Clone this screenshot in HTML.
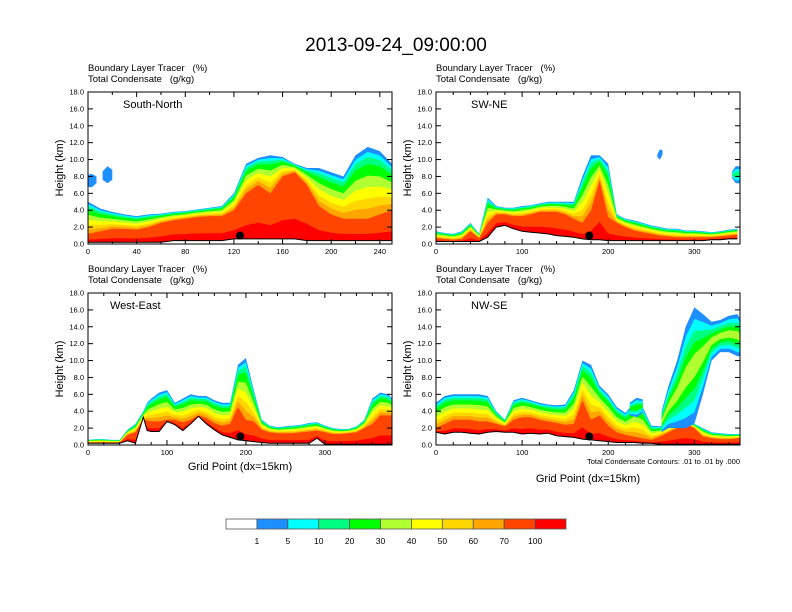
<!DOCTYPE html>
<html><head><meta charset="utf-8">
<style>
html,body{margin:0;padding:0;background:#fff;}
svg{display:block;font-family:"Liberation Sans",Arial,sans-serif;}
text{white-space:pre;}
</style></head>
<body>
<svg id="chart" width="792" height="612" viewBox="0 0 792 612" xmlns="http://www.w3.org/2000/svg">
<text x="396" y="51" font-size="19" text-anchor="middle">2013-09-24_09:00:00</text>
</svg>
<script>
// ---- data ----
const levelColors = ["#ffffff","#1e8fff","#00ffff","#00ff80","#00ff00","#b0ff30","#ffff00","#ffd700","#ffa500","#ff4500","#ff0000"];
const levelLabels = ["1","5","10","20","30","40","50","60","70","100"];
const yTicks = [0,2,4,6,8,10,12,14,16,18];

const p1X = [0,10,20,30,40,50,60,70,80,90,100,110,120,130,140,150,160,170,180,190,200,210,220,230,240,250];
const p1Top = [5,4.2,3.8,3.5,3.3,3.5,3.6,3.8,3.9,4.1,4.3,4.5,6,9.5,10.2,10.5,10.3,9.5,9,9,8.5,8,10.5,11.5,11,9.5];
const p1Core = [1.2,1.5,1.8,1.8,1.7,2,2.5,2.8,3,3.2,3.3,3.3,4,6,7,6,8,8.5,7,4.5,3.5,3,3,3,3.5,4];
const p1Bot = [0.2,0.2,0.2,0.2,0.2,0.2,0.2,0.4,0.4,0.4,0.4,0.4,0.6,0.6,0.6,0.6,0.6,0.6,0.4,0.4,0.4,0.4,0.4,0.4,0.4,0.4];

const p2X = [0,10,20,30,40,50,60,70,80,90,100,110,120,130,140,150,160,170,180,190,200,210,220,230,240,250,260,270,280,290,300,310,320,330,340,350];
const p2Top = [1.5,1.3,1.2,1.5,2.5,1.2,5.5,4.5,4.3,4.3,4.5,4.6,4.8,5,5,5,5,8,10.5,10.5,9.5,3.5,3,2.8,2.5,2.2,2,1.8,1.8,1.6,1.6,1.5,1.4,1.5,1.7,1.8];
const p2Core = [0.7,0.6,0.5,0.6,1.5,0.7,2.5,3.5,3.5,3.3,3.3,3.5,3.8,3.8,3.8,3.5,3,2.5,4,7.5,3.2,2.5,2,1.6,1.4,1.2,1,0.9,0.8,0.8,0.8,0.8,0.8,0.9,1,1.1];
const p2Bot = [0.3,0.3,0.3,0.3,0.3,0.3,0.8,2,2.2,1.8,1.5,1.4,1.3,1.2,1,0.9,0.8,0.6,0.5,0.5,0.4,0.4,0.4,0.4,0.4,0.4,0.4,0.4,0.4,0.4,0.4,0.4,0.5,0.5,0.6,0.6];

const p3X = [0,10,20,30,40,50,60,70,75,80,90,100,110,120,130,140,150,160,170,180,190,200,210,220,230,240,250,260,270,280,290,300,310,320,330,340,350,360,370,380,385];
const p3Top = [0.6,0.7,0.7,0.6,0.6,1.8,2.5,4,5,5.5,6.2,6.5,5,5.5,6,5.8,5.8,5.3,5,5,9.5,10.3,6.5,3,2.3,2.1,2.2,2.3,2.4,2.6,2.7,2.3,2,1.9,1.9,2.2,3,5.5,6.2,6,5.5];
const p3Core = [0.3,0.3,0.3,0.3,0.3,1.2,1.5,3,2.9,2.8,2.8,3,3,2.7,3,3.5,3.2,2.6,2.3,2.5,4.5,3,2.8,1.8,1.5,1.4,1.4,1.4,1.5,1.6,1.7,1.5,1.3,1.3,1.4,1.5,2,2.5,3.5,3.5,3.5];
const p3Bot = [0.2,0.2,0.2,0.2,0.2,0.5,0.2,3.3,1.7,1.6,1.6,2.8,2.4,1.7,2.5,3.4,2.5,1.8,1.2,0.9,0.6,0.5,0.4,0.3,0.2,0.2,0.2,0.2,0.2,0.2,0.8,0.1,0.1,0.1,0.1,0.1,0.1,0.1,0.1,0.1,0.1];

const p4X = [0,10,20,30,40,50,60,70,80,90,100,110,120,130,140,150,160,170,180,190,200,210,220,230,240,250,260,270,280,290,300,310,320,330,340,350,353];
const p4Top = [5,5.8,6,6,6,6,5.8,4,3,5.3,5.6,5.3,5,4.8,4.7,4.8,6.5,10,9.5,7,6,4.5,3.8,5,4.5,2.3,2.2,2.5,2.8,2.8,2.5,2,1.5,1.4,1.3,1.3,1.3];
const p4Core = [2,2.5,3,3,3,2.8,2.8,2.5,2.2,3,3.3,3.3,3,2.8,2.6,2.4,2.5,5.3,3,3.5,2.3,1.5,1.2,1,0.8,0.6,1,1.5,2,2.5,2,1,0.8,0.7,0.7,0.8,0.8];
const p4Bot = [1.5,1.3,1.5,1.5,1.4,1.3,1.5,1.6,1.5,1.5,1.3,1.4,1.3,1.4,1.1,1,0.9,0.7,0.6,0.5,0.4,0.3,0.3,0.3,0.2,0.2,0.1,0.1,0.1,0.1,0.1,0.1,0.1,0.1,0.1,0.1,0.1];
const p4UpX = [262,270,280,290,300,310,320,330,340,350,353];
const p4UpBase = [1.5,2,2,2,2.5,6,10,11,11,10.5,10.5];
const p4UpTop = [4,7,10,14,16.3,15.5,14.6,14.8,15.3,15.5,15];

const blob1X = [0,3,7]; const blob1B = [6.8,6.7,7.2]; const blob1T = [8.2,8.3,8];
const blob2X = [12,16,20]; const blob2B = [7.6,7.2,7.6]; const blob2T = [8.6,9.2,8.8];
const blob3X = [257,260,263]; const blob3B = [10.3,10,10.6]; const blob3T = [10.6,11.2,11.1];
const blob4X = [344,348,353]; const blob4B = [7.8,7.2,7.2]; const blob4T = [8.6,9.2,9.2];
const blob5X = [225,233,240]; const blob5B = [3.5,3.3,3.8]; const blob5T = [5,5.6,5.4];

const dotX = [125,178,193,178];
const dotY = [1,1,1,1];

// ---- drawing ----
const svg = document.getElementById('chart');
const NS = "http://www.w3.org/2000/svg";
function mk(tag, attrs, parent){ const e=document.createElementNS(NS,tag); for(const k in attrs) e.setAttribute(k,attrs[k]); (parent||svg).appendChild(e); return e; }
const upperW = [0,1,0.93,0.86,0.76,0.6,0.44,0.28,0.14];

const panels = [
 {name:"south-north", label:"South-North", x:88,y:92,w:304,h:152,xmax:250,ticks:[0,40,80,120,160,200,240],minor:20,
  layers:[{x:p1X,top:p1Top,core:p1Core,bot:p1Bot}], ups:[{x:blob1X,b:blob1B,t:blob1T,m:1},{x:blob2X,b:blob2B,t:blob2T,m:1}], xlab:false},
 {name:"sw-ne", label:"SW-NE", x:436,y:92,w:304,h:152,xmax:353,ticks:[0,100,200,300],minor:20,
  layers:[{x:p2X,top:p2Top,core:p2Core,bot:p2Bot}], ups:[{x:blob3X,b:blob3B,t:blob3T,m:1},{x:blob4X,b:blob4B,t:blob4T,m:3}], xlab:false},
 {name:"west-east", label:"West-East", x:88,y:293,w:304,h:152,xmax:385,ticks:[0,100,200,300],minor:20,
  layers:[{x:p3X,top:p3Top,core:p3Core,bot:p3Bot}], ups:[], xlab:true},
 {name:"nw-se", label:"NW-SE", x:436,y:293,w:304,h:152,xmax:353,ticks:[0,100,200,300],minor:20,
  layers:[{x:p4X,top:p4Top,core:p4Core,bot:p4Bot}], ups:[{x:blob5X,b:blob5B,t:blob5T,m:4},{x:p4UpX,b:p4UpBase,t:p4UpTop,m:5}], xlab:true}
];

panels.forEach((p,pi)=>{
  const g = mk('g',{});
  
  
  const xs = v => p.x + v/p.xmax*p.w;
  const ys = v => p.y + p.h - v/18*p.h;
  const cid = 'clip'+pi;
  const cp = mk('clipPath',{id:cid},g); mk('rect',{x:p.x,y:p.y,width:p.w,height:p.h},cp);
  const fg = mk('g',{'clip-path':'url(#'+cid+')'},g);
  
  
  const base = ys(0)+1;
  p.layers.forEach(L=>{
    for(let k=1;k<=10;k++){
      const pts=[];
      L.x.forEach((xv,i)=>{
        const T=L.top[i], C=Math.min(L.core[i],T), B=L.bot[i];
        let h;
        if(k===10) h = B + (C-B)*0.3;
        else if(k===9) h = C;
        else h = C + (T-C)*upperW[k];
        pts.push(xs(xv).toFixed(1)+','+ys(h).toFixed(1));
      });
      pts.unshift(xs(L.x[0]).toFixed(1)+','+base);
      pts.push(xs(L.x[L.x.length-1]).toFixed(1)+','+base);
      const poly = mk('polygon',{points:pts.join(' '),fill:levelColors[k]},fg);
      
      
    }
  });
  p.ups.forEach(U=>{
    for(let k=1;k<=U.m;k++){
      const f = 1-(k-1)/U.m;
      const up=[],dn=[];
      U.x.forEach((xv,i)=>{
        const mid=(U.b[i]+U.t[i])/2;
        up.push(xs(xv).toFixed(1)+','+ys(mid+(U.t[i]-mid)*f).toFixed(1));
        dn.unshift(xs(xv).toFixed(1)+','+ys(mid-(mid-U.b[i])*f).toFixed(1));
      });
      const poly = mk('polygon',{points:up.concat(dn).join(' '),fill:levelColors[k]},fg);
      
      
    }
  });
  p.layers.forEach(L=>{
    const pts=L.x.map((xv,i)=>xs(xv).toFixed(1)+','+ys(L.bot[i]).toFixed(1));
    const ter = mk('polygon',{points:[xs(L.x[0]).toFixed(1)+','+base].concat(pts,[xs(L.x[L.x.length-1]).toFixed(1)+','+base]).join(' '),fill:'#fff'},fg);
    
    
    const tl = mk('polyline',{points:pts.join(' '),fill:'none',stroke:'#000','stroke-width':1},fg);
    
    
  });
  const dot = mk('circle',{cx:xs(dotX[pi]),cy:ys(dotY[pi]),r:4,fill:'#000'},g);
  
  
  const fr = mk('rect',{x:p.x,y:p.y,width:p.w,height:p.h,fill:'none',stroke:'#000','stroke-width':1},g);
  
  
  yTicks.forEach(t=>{
    const y=ys(t);
    mk('line',{x1:p.x,x2:p.x+5,y1:y,y2:y,stroke:'#000'},g);
    mk('line',{x1:p.x+p.w,x2:p.x+p.w-5,y1:y,y2:y,stroke:'#000'},g);
    const tx = mk('text',{x:p.x-4,y:y+2.5,'font-size':7.5,'text-anchor':'end'},g);
    tx.textContent=t.toFixed(1);
    
    
  });
  for(let v=0; v<=p.xmax; v+=p.minor){
    const x=xs(v); const major=p.ticks.indexOf(v)>=0; const L=major?5:3;
    mk('line',{x1:x,x2:x,y1:p.y+p.h,y2:p.y+p.h-L,stroke:'#000'},g);
    mk('line',{x1:x,x2:x,y1:p.y,y2:p.y+L,stroke:'#000'},g);
  }
  p.ticks.forEach(t=>{
    const tx = mk('text',{x:xs(t),y:p.y+p.h+10,'font-size':7.5,'text-anchor':'middle'},g);
    tx.textContent=t;
    
    
  });
  const yl = mk('text',{x:0,y:0,'font-size':11,'text-anchor':'middle',transform:`translate(${p.x-25},${p.y+p.h/2}) rotate(-90)`},g);
  yl.textContent='Height (km)';
  
  
  const h1 = mk('text',{x:p.x,y:p.y-21,'font-size':9.5},g); h1.textContent='Boundary Layer Tracer   (%)';
  
  
  const h2 = mk('text',{x:p.x,y:p.y-10,'font-size':9.5},g); h2.textContent='Total Condensate   (g/kg)';
  
  
  const lb = mk('text',{x:p.x+(pi==2?22:35),y:p.y+16,'font-size':11},g); lb.textContent=p.label;
  
  
  if(p.xlab){
    const xl = mk('text',{x:p.x+p.w/2,y:pi==3?482:470,'font-size':11,'text-anchor':'middle'},g);
    xl.textContent='Grid Point (dx=15km)';
    
    
  }
  if(pi==3){
    const ct = mk('text',{x:p.x+p.w,y:464,'font-size':7.5,'text-anchor':'end'},g);
    ct.textContent='Total Condensate Contours: .01 to .01 by .000';
    
    
  }
});

const cb = mk('g',{});


const cbx=226, cbw=340, cby=519, cbh=10, bw=cbw/levelColors.length;
levelColors.forEach((c,i)=>{
  const r = mk('rect',{x:cbx+i*bw,y:cby,width:bw,height:cbh,fill:c,stroke:'#555','stroke-width':0.8},cb);
  
  
});
levelLabels.forEach((l,i)=>{
  const t = mk('text',{x:cbx+(i+1)*bw,y:544,'font-size':8.5,'text-anchor':'middle'},cb);
  t.textContent=l;
  
  
});
</script>
</body></html>
